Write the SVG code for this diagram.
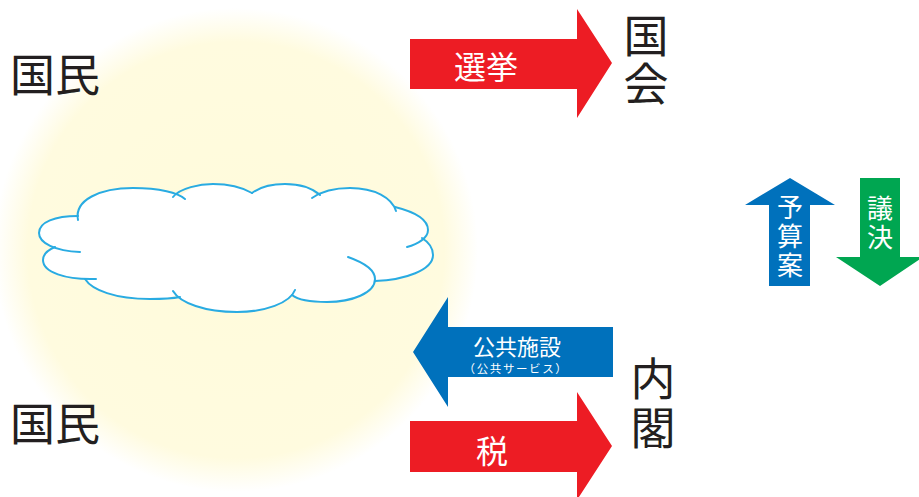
<svg xmlns="http://www.w3.org/2000/svg" width="919" height="497" viewBox="0 0 919 497">
<style>
.jp{font-family:"Noto Sans CJK JP","Noto Sans CJK SC",sans-serif;dominant-baseline:central;text-anchor:middle}
.vt{font-family:"Noto Sans CJK JP","Noto Sans CJK SC",sans-serif;writing-mode:vertical-rl;dominant-baseline:central;text-anchor:start}
.big{font-size:45px;fill:#231f20}
.lbl{fill:#ffffff}
.cl{fill:none;stroke:#29abe2;stroke-width:2;stroke-linecap:round}
</style>
<defs>
<radialGradient id="glow" cx="236" cy="250" r="242" gradientUnits="userSpaceOnUse">
<stop offset="0" stop-color="#fffbdb"/>
<stop offset="0.86" stop-color="#fffbdf"/>
<stop offset="1" stop-color="#ffffff"/>
</radialGradient>
</defs>
<rect width="919" height="497" fill="#ffffff"/>
<circle cx="236" cy="250" r="242" fill="url(#glow)"/>

<g id="kokumin-top"><text class="jp big" x="55" y="72">国民</text></g>
<g id="kokumin-bottom"><text class="jp big" x="55" y="421">国民</text></g>

<g id="cloud">
<path fill="#ffffff" d="M78,218 C74,200 100,188 133,188 C160,188 175,192 180,196 C190,188 200,184 213,184 C232,184 245,189 252,193 C260,187 272,184 285,184 C300,184 312,188 316,196 C325,190 335,188 350,188 C375,188 392,198 396,209 C415,212 428,220 428,230 C428,236 425,240 420,240 C430,243 433,249 433,255 C433,270 405,280 375,281 C370,293 352,302 327,302 C310,302 297,299 292,295 C285,304 265,312 237,312 C205,312 183,303 176,295 C168,299 160,299 150,299 C115,299 92,290 85,279 C60,278 43,272 43,260 C43,254 48,250 55,247 C45,245 39,240 39,233 C39,222 55,216 78,216 Z"/>
<path class="cl" d="M78,220 C74,200 100,188 133,188 C160,188 178,193 185,199"/>
<path class="cl" d="M173,197 C180,188 200,184 213,184 C232,184 245,189 252,193"/>
<path class="cl" d="M252,193 C260,187 272,184 285,184 C300,184 312,188 320,195"/>
<path class="cl" d="M312,198 C322,191 335,188 350,188 C375,188 392,198 396,211"/>
<path class="cl" d="M395,207 C415,212 428,220 428,230 C428,238 418,244 407,247"/>
<path class="cl" d="M422,238 C430,243 433,249 433,255 C433,270 405,280 375,281"/>
<path class="cl" d="M348,257 C365,263 375,270 375,279 C375,293 352,302 327,302 C310,302 297,299 292,295"/>
<path class="cl" d="M295,290 C290,303 265,312 237,312 C205,312 180,303 173,291"/>
<path class="cl" d="M180,297 C170,299 160,299 150,299 C115,299 92,290 85,279"/>
<path class="cl" d="M96,279 C65,280 43,272 43,260 C43,254 48,250 55,247"/>
<path class="cl" d="M80,252 C55,251 39,243 39,233 C39,222 55,216 78,216"/>
</g>

<g id="kokkai">
<text class="vt big" x="646" y="13.5" letter-spacing="3">国会</text>
</g>
<g id="naikaku">
<text class="vt big" x="653" y="356.5" letter-spacing="4">内閣</text>
</g>

<g id="connectors">
<g id="senkyo">
<polygon fill="#ed1c24" points="410,39 577,39 577,9 612,63 577,118 577,89 410,89"/>
<text class="jp lbl" x="486" y="65" font-size="32">選挙</text>
</g>
<g id="zei">
<polygon fill="#ed1c24" points="410,421 577,421 577,392 612,446 577,500 577,472 410,472"/>
<text class="jp lbl" x="492" y="449" font-size="32">税</text>
</g>
<g id="koukyou">
<polygon fill="#0071bc" points="613,327 448,327 448,297 413,352 448,407 448,377 613,377"/>
<text class="jp lbl" x="517" y="345" font-size="22">公共施設</text>
<text class="jp lbl" x="516" y="368" font-size="11.5" letter-spacing="1.6">（公共サービス）</text>
</g>
<g id="yosan">
<polygon fill="#0071bc" points="769,286 769,205 745,205 790,178 835,205 810,205 810,286"/>
<text class="vt lbl" x="790" y="194" font-size="26" letter-spacing="3">予算案</text>
</g>
<g id="giketsu">
<polygon fill="#00a651" points="860,178 900,178 900,257 923,257 880,286 836,257 860,257"/>
<text class="vt lbl" x="880" y="195" font-size="26" letter-spacing="3">議決</text>
</g>
</g>
</svg>
